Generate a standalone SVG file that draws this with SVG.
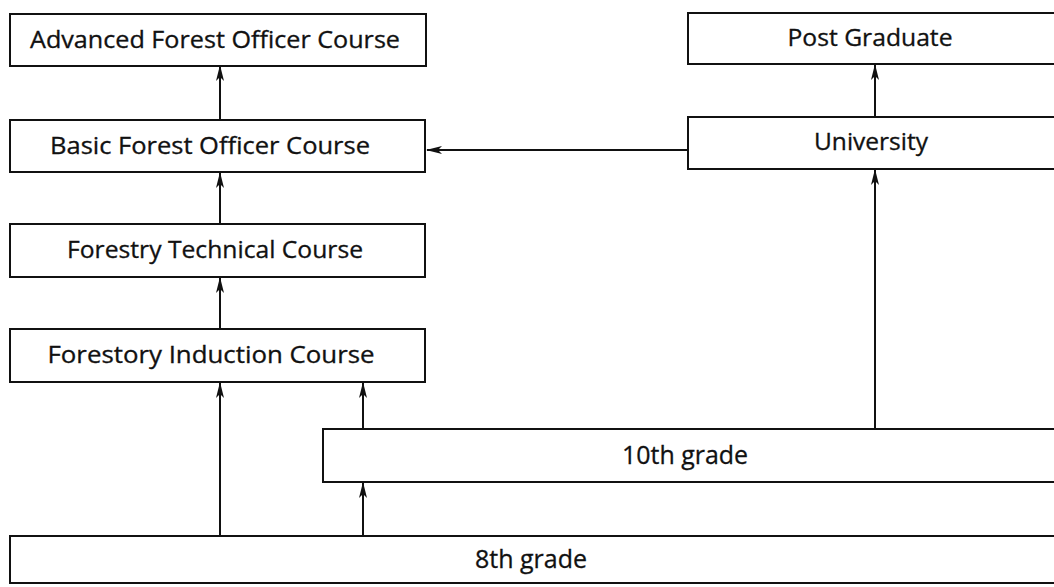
<svg xmlns="http://www.w3.org/2000/svg" width="1054" height="587" viewBox="0 0 1054 587">
<defs>
<style>
.box{fill:#fff;stroke:#111;stroke-width:2}
.lbl{font-family:"Open Sans","Liberation Sans",sans-serif;font-size:23px;fill:#111;stroke:#111;stroke-width:0.3;text-anchor:middle}
.cond{font-size:25px}
.con{stroke:#111;stroke-width:2;fill:none;marker-end:url(#ah)}
</style>
<marker id="ah" markerUnits="userSpaceOnUse" markerWidth="18" markerHeight="10" refX="15" refY="5" orient="auto">
<path d="M0,1 L16,5 L0,9 L4,5 Z" fill="#111"/>
</marker>
</defs>
<rect width="1054" height="587" fill="#fff"/>
<g id="connectors">
<line class="con" x1="220" y1="120" x2="220" y2="66"/>
<line class="con" x1="220" y1="224" x2="220" y2="173"/>
<line class="con" x1="220" y1="329" x2="220" y2="278"/>
<line class="con" x1="220" y1="536" x2="220" y2="383"/>
<line class="con" x1="363" y1="429" x2="363" y2="383"/>
<line class="con" x1="363" y1="536" x2="363" y2="483"/>
<line class="con" x1="875" y1="429" x2="875" y2="170"/>
<line class="con" x1="875" y1="117" x2="875" y2="65"/>
<line class="con" x1="688" y1="150" x2="427" y2="150"/>
</g>
<g id="advanced">
<rect class="box" x="10" y="14" width="416" height="52"/>
<text class="lbl" x="215" y="48" textLength="370" lengthAdjust="spacingAndGlyphs">Advanced Forest Officer Course</text>
</g>
<g id="basic">
<rect class="box" x="10" y="120" width="415" height="52"/>
<text class="lbl" x="210" y="154" textLength="320" lengthAdjust="spacingAndGlyphs">Basic Forest Officer Course</text>
</g>
<g id="technical">
<rect class="box" x="10" y="224" width="415" height="53"/>
<text class="lbl" x="215" y="258" textLength="296" lengthAdjust="spacingAndGlyphs">Forestry Technical Course</text>
</g>
<g id="induction">
<rect class="box" x="10" y="329" width="415" height="53"/>
<text class="lbl" x="211" y="363" textLength="327" lengthAdjust="spacingAndGlyphs">Forestory Induction Course</text>
</g>
<g id="postgraduate">
<rect class="box" x="688" y="13" width="380" height="51"/>
<text class="lbl" x="870" y="46" textLength="165" lengthAdjust="spacingAndGlyphs">Post Graduate</text>
</g>
<g id="university">
<rect class="box" x="688" y="117" width="380" height="52"/>
<text class="lbl" x="871" y="150" textLength="114" lengthAdjust="spacingAndGlyphs">University</text>
</g>
<g id="grade10">
<rect class="box" x="323" y="429" width="745" height="53"/>
<text class="lbl cond" x="685" y="464" textLength="126" lengthAdjust="spacingAndGlyphs">10th grade</text>
</g>
<g id="grade8">
<rect class="box" x="10" y="536" width="1058" height="47"/>
<text class="lbl cond" x="531" y="568" textLength="112" lengthAdjust="spacingAndGlyphs">8th grade</text>
</g>
</svg>
